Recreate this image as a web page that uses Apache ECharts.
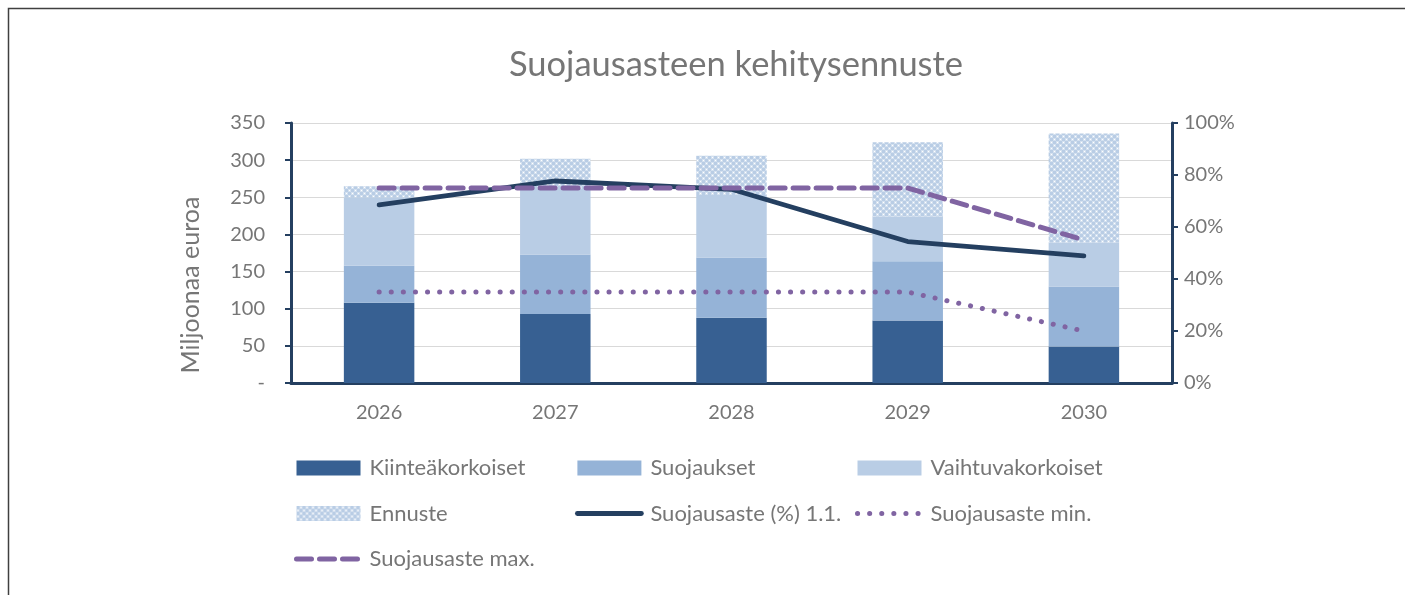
<!DOCTYPE html>
<html>
<head>
<meta charset="utf-8">
<script src="https://cdn.jsdelivr.net/npm/echarts@6/dist/echarts.min.js"></script>
<style>
html,body{margin:0;padding:0;background:#fff;}
#c{width:1405px;height:595px;}
</style>
</head>
<body>
<div id="c"></div>
<script>
var categories = ['2026', '2027', '2028', '2029', '2030'];
var kiintea = [108, 93, 88, 84, 49];
var suojaukset = [50, 80, 81, 80, 81];
var vaihtuva = [92, 88, 84, 60, 59];
var ennuste = [15, 41, 53, 100, 147];
var suojausaste = [0.685, 0.777, 0.745, 0.544, 0.489];
var asteMin = [0.35, 0.35, 0.35, 0.35, 0.20];
var asteMax = [0.75, 0.75, 0.75, 0.75, 0.55];
var leftTicks = {0: '-', 50: '50', 100: '100', 150: '150', 200: '200', 250: '250', 300: '300', 350: '350'};

var FONT = 'Lato';
var GRAY = '#767676';
var NAVY = '#243F60';
var PURPLE = '#8064A2';

// pattern for Ennuste
var pc = document.createElement('canvas');
pc.width = 6; pc.height = 6;
var g = pc.getContext('2d');
g.fillStyle = '#ffffff'; g.fillRect(0, 0, 6, 6);
g.fillStyle = '#B9CDE5';
g.fillRect(0, 0, 3, 3); g.fillRect(3, 3, 3, 3);
g.fillStyle = '#D3E0EF';
g.fillRect(3, 0, 3, 3); g.fillRect(0, 3, 3, 3);
g.fillStyle = '#ffffff';
g.fillRect(1, 4, 1, 1); g.fillRect(4, 1, 1, 1);
var patternColor = {image: pc, repeat: 'repeat'};

var minDash = {color: PURPLE, width: 5, type: [0.1, 12], cap: 'round'};
var maxDash = {color: PURPLE, width: 5, type: [15, 8], cap: 'round'};
var solidLine = {color: NAVY, width: 4.8, cap: 'round'};

var chart = echarts.init(document.getElementById('c'), null, {renderer: 'canvas'});
var legendText = {fontFamily: FONT, fontSize: 22, lineHeight: 22, color: GRAY, padding: [0, 0, 0, 4]};
var legendCommon = {orient: 'vertical', top: 457, padding: 0, itemWidth: 64, itemHeight: 15, itemGap: 23.5, textStyle: legendText, selectedMode: false};
var hideSym = {opacity: 0};

chart.setOption({
  animation: false,
  backgroundColor: '#fff',
  title: {text: 'Suojausasteen kehitysennuste', left: 731, textAlign: 'center', top: 42,
    textStyle: {fontFamily: FONT, fontSize: 34.5, fontWeight: 'normal', color: GRAY}},
  graphic: [
    {type: 'polyline', shape: {points: [[8.5, 600], [8.5, 8.5], [1405, 8.5]]}, style: {stroke: '#404040', lineWidth: 1.5, fill: null}},
    {type: 'text', x: 191, y: 285, rotation: Math.PI / 2,
      style: {text: 'Miljoonaa euroa', fontFamily: FONT, fontSize: 25, fill: GRAY, align: 'center', verticalAlign: 'middle'}}
  ],
  legend: [
    Object.assign({left: 294, data: [
      {name: 'Kiinteäkorkoiset', icon: 'rect'},
      {name: 'Ennuste', icon: 'rect'},
      {name: 'Suojausaste max.', itemStyle: hideSym, lineStyle: maxDash}]}, legendCommon),
    Object.assign({left: 575, data: [
      {name: 'Suojaukset', icon: 'rect'},
      {name: 'Suojausaste (%) 1.1.', itemStyle: hideSym, lineStyle: solidLine}]}, legendCommon),
    Object.assign({left: 855, data: [
      {name: 'Vaihtuvakorkoiset', icon: 'rect'},
      {name: 'Suojausaste min.', itemStyle: hideSym, lineStyle: minDash}]}, legendCommon)
  ],
  grid: {left: 291, right: 233, top: 123, bottom: 212},
  xAxis: {type: 'category', data: categories,
    axisLine: {lineStyle: {color: NAVY, width: 3}},
    axisTick: {show: false},
    axisLabel: {fontFamily: FONT, fontSize: 20, color: GRAY, margin: 20}},
  yAxis: [
    {type: 'value', min: 0, max: 350, interval: 50,
      axisLine: {show: true, lineStyle: {color: NAVY, width: 3}},
      axisTick: {show: true, length: 6, lineStyle: {color: NAVY, width: 2}},
      splitLine: {lineStyle: {color: '#D9D9D9', width: 1.2}},
      axisLabel: {fontFamily: FONT, fontSize: 20, color: GRAY, margin: 26,
        formatter: function (v) { return leftTicks[v] !== undefined ? leftTicks[v] : v; }}},
    {type: 'value', min: 0, max: 1, interval: 0.2, position: 'right',
      axisLine: {show: true, lineStyle: {color: NAVY, width: 3}},
      axisTick: {show: true, length: 6, lineStyle: {color: NAVY, width: 2}},
      splitLine: {show: false},
      axisLabel: {fontFamily: FONT, fontSize: 20, color: GRAY, margin: 12,
        formatter: function (v) { return Math.round(v * 100) + '%'; }}}
  ],
  series: [
    {name: 'Kiinteäkorkoiset', type: 'bar', stack: 's', data: kiintea, barCategoryGap: '60%',
      itemStyle: {color: '#376092'}},
    {name: 'Suojaukset', type: 'bar', stack: 's', data: suojaukset,
      itemStyle: {color: '#95B3D7'}},
    {name: 'Vaihtuvakorkoiset', type: 'bar', stack: 's', data: vaihtuva,
      itemStyle: {color: '#B9CDE5'}},
    {name: 'Ennuste', type: 'bar', stack: 's', data: ennuste,
      itemStyle: {color: patternColor}},
    {name: 'Suojausaste (%) 1.1.', type: 'line', yAxisIndex: 1, data: suojausaste, symbol: 'none',
      lineStyle: solidLine, itemStyle: {color: NAVY}, z: 5},
    {name: 'Suojausaste min.', type: 'line', yAxisIndex: 1, data: asteMin, symbol: 'none',
      lineStyle: minDash, itemStyle: {color: PURPLE}, z: 4},
    {name: 'Suojausaste max.', type: 'line', yAxisIndex: 1, data: asteMax, symbol: 'none',
      lineStyle: maxDash, itemStyle: {color: PURPLE}, z: 6}
  ]
});
</script>
</body>
</html>
